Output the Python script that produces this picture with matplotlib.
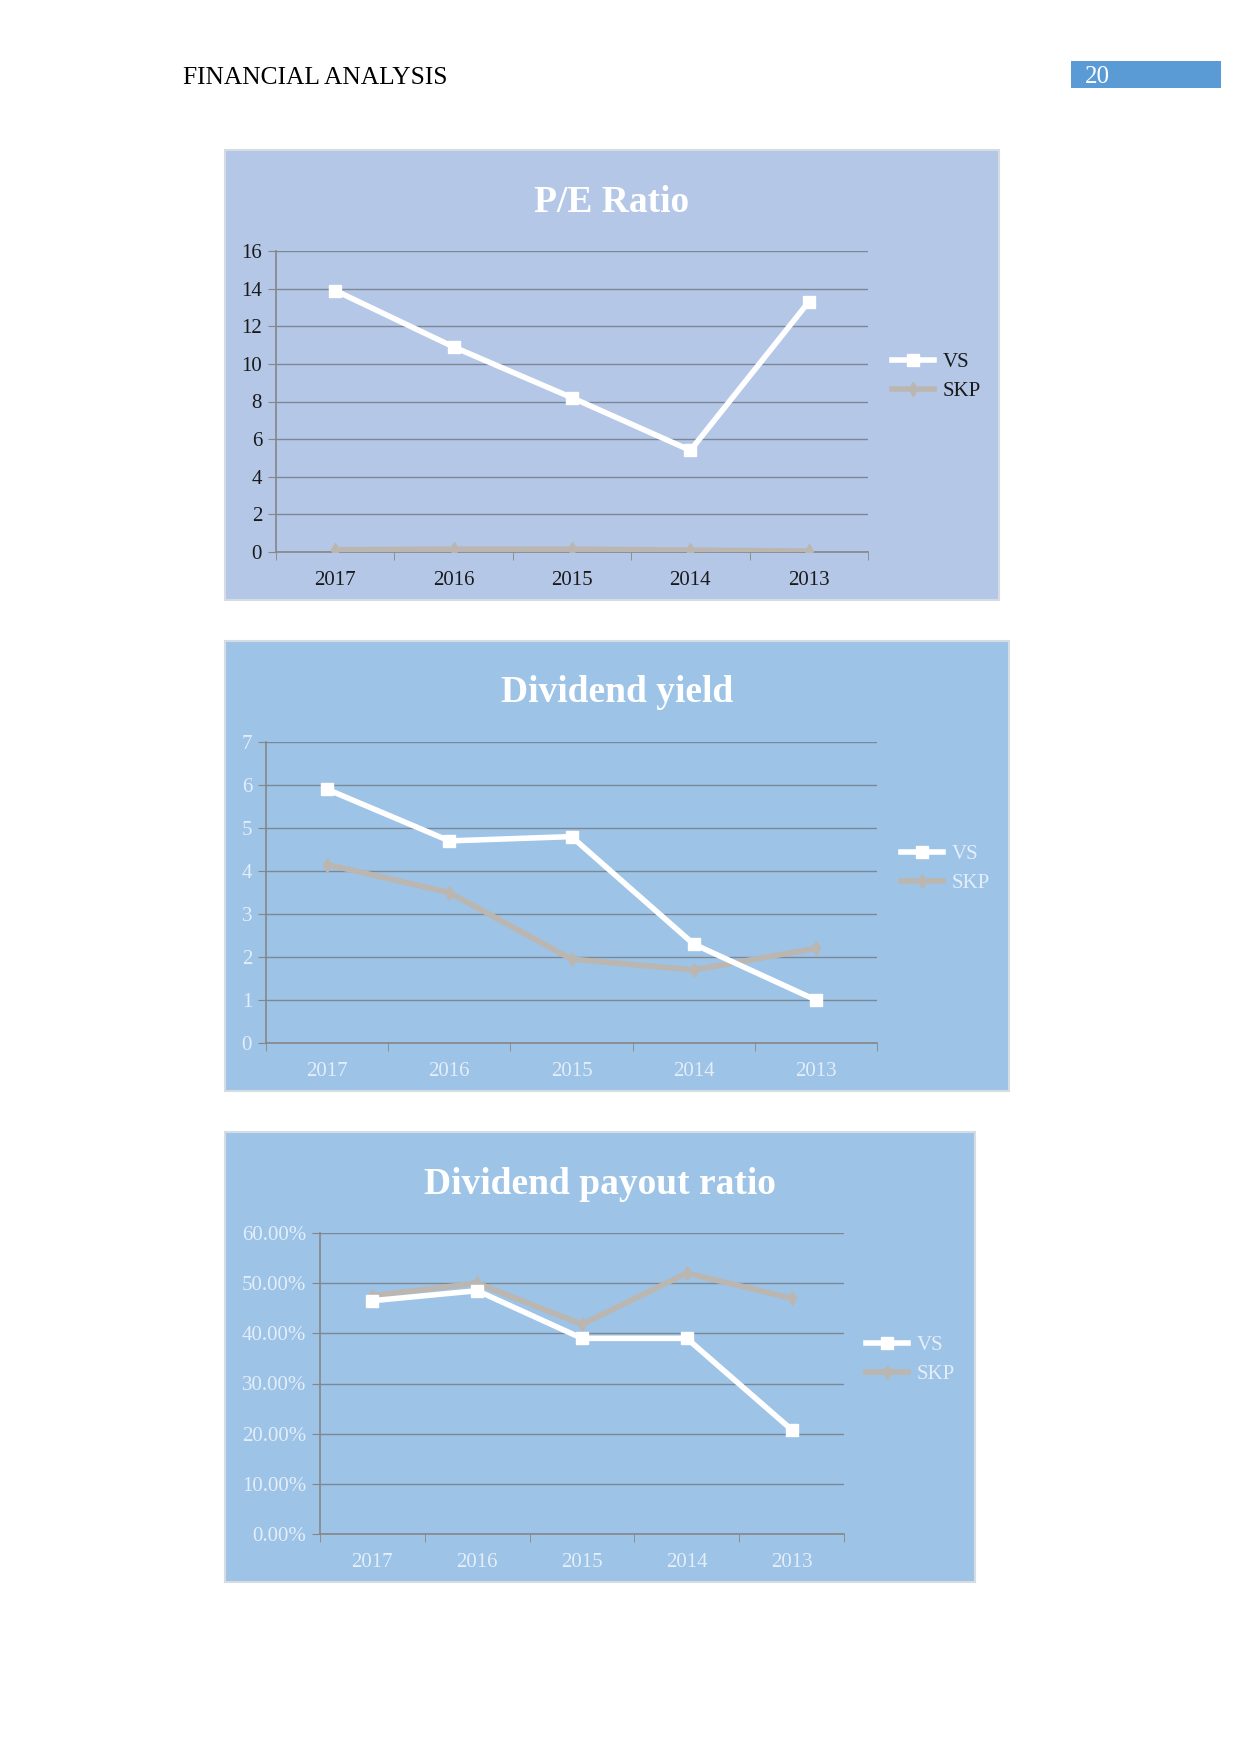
import matplotlib
matplotlib.use("Agg")
import matplotlib.pyplot as plt
from matplotlib.patches import Rectangle
from matplotlib.ticker import FuncFormatter

plt.rcParams['font.family'] = ['Liberation Serif', 'DejaVu Serif']

# Data
years = ['2017', '2016', '2015', '2014', '2013']

pe_vs = [13.9, 10.9, 8.2, 5.4, 13.3]
pe_skp = [0.12, 0.15, 0.15, 0.10, 0.05]

dy_vs = [5.9, 4.7, 4.8, 2.3, 1.0]
dy_skp = [4.15, 3.5, 1.95, 1.7, 2.2]

dp_vs = [0.465, 0.485, 0.39, 0.39, 0.208]
dp_skp = [0.475, 0.50, 0.418, 0.52, 0.47]

W, H = 1241, 1754
fig = plt.figure(figsize=(W / 100, H / 100), dpi=100)
fig.patch.set_facecolor('white')


def fx(x):
    return x / W


def fy(y):
    return 1 - y / H


def rect(x0, y0, x1, y1):
    # pixel box (top-left origin) -> figure fraction [l, b, w, h]
    return [fx(x0), fy(y1), (x1 - x0) / W, (y1 - y0) / H]


# page header
fig.text(fx(183), fy(78), 'FINANCIAL ANALYSIS', fontsize=18.4, color='black',
         ha='left', va='center')
fig.patches.append(Rectangle((fx(1071), fy(88)), (1221 - 1071) / W, 27 / H,
                             transform=fig.transFigure, facecolor='#5b9bd5',
                             edgecolor='none', zorder=-1))
fig.text(fx(1085), fy(77), '20', fontsize=18, color='white', ha='left', va='center')


def draw_panel(box, plot, bg, title, vs, skp, ymax, ystep, txt_color,
               leg_xy, fmt=None):
    x0, y0, x1, y1 = box
    fig.patches.append(Rectangle((fx(x0), fy(y1)), (x1 - x0) / W, (y1 - y0) / H,
                                 transform=fig.transFigure, facecolor=bg,
                                 edgecolor='#d6dce4', linewidth=1.5, zorder=-1))
    fig.text(fx((x0 + x1) / 2), fy(y0 + 52), title, fontsize=27, fontweight='bold',
             color='white', ha='center', va='center')

    ax = fig.add_axes(rect(*plot))
    ax.set_facecolor('none')
    xs = [i + 0.5 for i in range(len(years))]
    ax.plot(xs, vs, color='white', lw=4, marker='s', ms=8,
            mfc='white', mec='white', label='VS', zorder=4)
    ax.plot(xs, skp, color='#bcb6b0', lw=4, marker='d', ms=7,
            mfc='#bcb6b0', mec='#bcb6b0', label='SKP', zorder=3)

    ax.set_xlim(0, len(years))
    ax.set_ylim(0, ymax)
    yt = [ystep * i for i in range(int(round(ymax / ystep)) + 1)]
    ax.set_yticks(yt)
    if fmt:
        ax.yaxis.set_major_formatter(FuncFormatter(fmt))
    ax.grid(axis='y', color='#7d8896', lw=1.0)
    ax.set_axisbelow(True)

    ax.set_xticks(xs)
    ax.set_xticklabels(years)
    ax.set_xticks(range(len(years) + 1), minor=True)
    ax.tick_params(axis='x', which='major', length=0, pad=14,
                   labelsize=15, labelcolor=txt_color)
    ax.tick_params(axis='x', which='minor', length=6, color='#868686', direction='out')
    ax.tick_params(axis='y', length=6, color='#868686', direction='out',
                   labelsize=15, labelcolor=txt_color, pad=4)

    for s in ['top', 'right']:
        ax.spines[s].set_visible(False)
    for s in ['left', 'bottom']:
        ax.spines[s].set_color('#868686')
        ax.spines[s].set_linewidth(1.2)

    leg = ax.legend(loc='center left', bbox_to_anchor=(fx(leg_xy[0]), fy(leg_xy[1])),
                    bbox_transform=fig.transFigure, frameon=False, fontsize=15,
                    handlelength=2.0, handletextpad=0.43, labelspacing=0.45,
                    borderpad=0, borderaxespad=0)
    for t in leg.get_texts():
        t.set_color(txt_color)
    return ax


draw_panel((225, 150, 999, 600), (276, 251, 868, 552), '#b4c7e7', 'P/E Ratio',
           pe_vs, pe_skp, 16, 2, '#1a1a1a', (892, 377))

draw_panel((225, 641, 1009, 1091), (266, 742, 877, 1043), '#9dc3e6', 'Dividend yield',
           dy_vs, dy_skp, 7, 1, '#e4eefa', (901, 869))

draw_panel((225, 1132, 975, 1582), (320, 1233, 844, 1534), '#9dc3e6',
           'Dividend payout ratio', dp_vs, dp_skp, 0.6, 0.1, '#e4eefa', (866, 1360),
           fmt=lambda v, p: f"{v * 100:.2f}%")

fig.savefig('out.png', dpi=100)
